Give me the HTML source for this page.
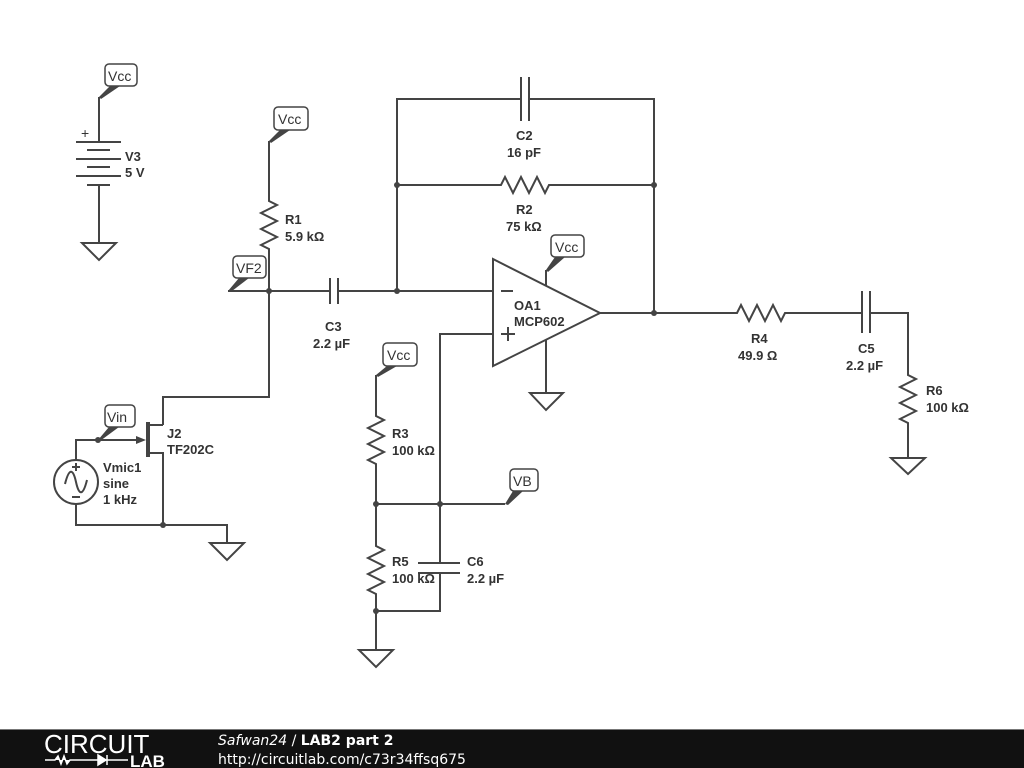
<!DOCTYPE html>
<html><head><meta charset="utf-8"><style>
html,body{margin:0;padding:0;background:#fff;width:1024px;height:768px;overflow:hidden}
svg{display:block}
text{font-family:"Liberation Sans",Arial,sans-serif;font-size:13px;font-weight:bold;fill:#333}
.w{stroke:#444;stroke-width:2;fill:none}
.lb{fill:#fff;stroke:#444;stroke-width:1.5}
text.lt{font-weight:normal;font-size:14px;fill:#333}
</style></head><body>
<svg width="1024" height="768" viewBox="0 0 1024 768">
<!-- V3 battery -->
<rect class="lb" x="105" y="64" width="32" height="22" rx="4"/><text class="lt" x="108" y="81">Vcc</text>
<polygon points="99,97 110,86 120,86 101,99" fill="#444"/>
<path class="w" d="M99,97V142M76,142H121M87,150H110M76,159H121M87,167H110M76,176H121M87,185H110M99,185V243M82,243H116L99,260Z"/>
<text class="lt" x="81" y="138">+</text>
<text x="125" y="161">V3</text><text x="125" y="177">5 V</text>

<!-- R1 -->
<rect class="lb" x="274" y="107" width="34" height="23" rx="4"/><text class="lt" x="278" y="124">Vcc</text>
<polygon points="269,141 280,130 290,130 271,143" fill="#444"/>
<path class="w" d="M269,141V201L277,205L261,213L277,221L261,229L277,237L261,245L269,249V397H163V425"/>
<text x="285" y="224">R1</text><text x="285" y="241">5.9 kΩ</text>
<rect class="lb" x="233" y="256" width="33" height="22" rx="4"/><text class="lt" x="236" y="273">VF2</text>
<polygon points="228,291 239,278 249,278 232,291" fill="#444"/>
<path class="w" d="M228,291H330M338,291H493M330,278V304M338,278V304"/>
<text x="325" y="331">C3</text><text x="313" y="348">2.2 µF</text>

<!-- feedback -->
<path class="w" d="M397,291V99H521M529,99H654V313M521,77V121M529,77V121M397,185H501L505,177L513,193L521,177L529,193L537,177L545,193L549,185H654"/>
<text x="516" y="140">C2</text><text x="507" y="157">16 pF</text>
<text x="516" y="214">R2</text><text x="506" y="231">75 kΩ</text>

<!-- opamp -->
<path class="w" d="M493,259L600,313L493,366Z"/>
<path class="w" d="M501,291H513M501,334H515M508,327V341"/>
<text x="514" y="310">OA1</text><text x="514" y="326">MCP602</text>
<rect class="lb" x="551" y="235" width="33" height="22" rx="4"/><text class="lt" x="555" y="252">Vcc</text>
<polygon points="546,270 555,257 565,257 548,272" fill="#444"/>
<path class="w" d="M546,270V286M546,340V393M530,393H563L546,410Z"/>

<!-- output -->
<path class="w" d="M600,313H737L741,305L749,321L757,305L765,321L773,305L781,321L785,313H862M870,313H908V375L916,379L900,387L916,395L900,403L916,411L900,419L908,423V458M891,458H925L908,474ZM862,291V333M870,291V333"/>
<text x="751" y="343">R4</text><text x="738" y="360">49.9 Ω</text>
<text x="858" y="353">C5</text><text x="846" y="370">2.2 µF</text>
<text x="926" y="395">R6</text><text x="926" y="412">100 kΩ</text>

<!-- bias -->
<rect class="lb" x="383" y="343" width="34" height="23" rx="4"/><text class="lt" x="387" y="360">Vcc</text>
<polygon points="376,375 387,366 397,366 378,377" fill="#444"/>
<path class="w" d="M493,334H440V563M440,573V611H376M376,375V416L384,420L368,428L384,436L368,444L384,452L368,460L376,464V546L384,550L368,558L384,566L368,574L384,582L368,590L376,594V650M359,650H393L376,667ZM376,504H505M418,563H460M418,573H460"/>
<text x="392" y="438">R3</text><text x="392" y="455">100 kΩ</text>
<text x="392" y="566">R5</text><text x="392" y="583">100 kΩ</text>
<text x="467" y="566">C6</text><text x="467" y="583">2.2 µF</text>
<rect class="lb" x="510" y="469" width="28" height="22" rx="4"/><text class="lt" x="513" y="486">VB</text>
<polygon points="505,504 513,491 523,491 508,505" fill="#444"/>

<!-- J2 + Vmic -->
<rect class="lb" x="105" y="405" width="30" height="22" rx="4"/><text class="lt" x="107" y="422">Vin</text>
<polygon points="98,440 109,427 119,427 100,441" fill="#444"/>
<path class="w" d="M76,460V440H140M163,425H149M149,453H163V525M76,504V525H227V543M210,543H244L227,560Z"/>
<polygon points="146,440 136,436 136,444" fill="#444"/>
<path d="M148,422V457" stroke="#444" stroke-width="4"/>
<text x="167" y="438">J2</text><text x="167" y="454">TF202C</text>
<circle class="w" cx="76" cy="482" r="22"/>
<path class="w" d="M65,484C69,468 73,468 76,482C79,496 83,496 87,480" stroke-width="1.5"/>
<path class="w" d="M72,467H80M76,463V471M72,497H80" stroke-width="1.2"/>
<text x="103" y="472">Vmic1</text><text x="103" y="488">sine</text><text x="103" y="504">1 kHz</text>

<g fill="#444">
<circle cx="269" cy="291" r="3"/><circle cx="397" cy="291" r="3"/><circle cx="397" cy="185" r="3"/><circle cx="654" cy="185" r="3"/><circle cx="654" cy="313" r="3"/><circle cx="98" cy="440" r="3"/><circle cx="163" cy="525" r="3"/><circle cx="376" cy="504" r="3"/><circle cx="440" cy="504" r="3"/><circle cx="376" cy="611" r="3"/>
</g>

<!-- footer -->
<rect x="0" y="729" width="1024" height="39" fill="#111"/>
<rect x="0" y="729" width="1024" height="1" fill="#777"/>
<text x="44" y="753" style="font-size:26px;font-weight:normal;fill:#fff;letter-spacing:0px">CIRCUIT</text>
<path d="M45,760H55L58,756L61,764L64,756L67,764L70,760H98M98,755V765L106,760ZM107,755V765M107,760H128" stroke="#fff" stroke-width="1.5" fill="#fff"/>
<text x="130" y="767" style="font-size:17px;font-weight:bold;fill:#fff">LAB</text>
<text x="218" y="745" style="font-size:14px;font-weight:normal;fill:#fff;font-family:'DejaVu Sans',sans-serif"><tspan font-style="italic">Safwan24</tspan> / <tspan font-weight="bold">LAB2 part 2</tspan></text>
<text x="218" y="764" style="font-size:14px;font-weight:normal;fill:#fff;font-family:'DejaVu Sans',sans-serif">http://circuitlab.com/c73r34ffsq675</text>
</svg>
</body></html>
